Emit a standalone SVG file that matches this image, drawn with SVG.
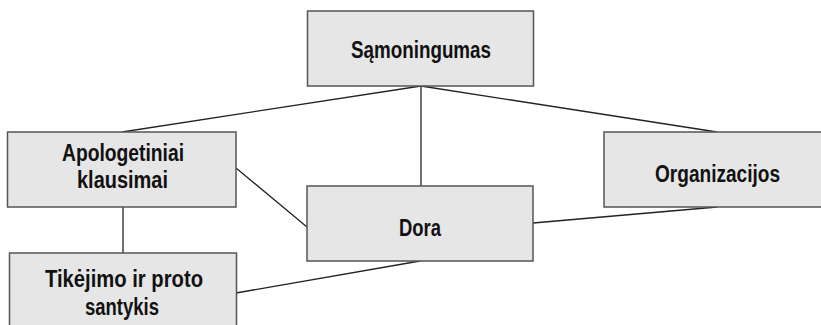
<svg xmlns="http://www.w3.org/2000/svg" width="821" height="325" viewBox="0 0 821 325">
<style>
.box{fill:#e6e6e7;stroke:#555;stroke-width:1.5}
.lbl{font-family:"Liberation Sans",Arial,sans-serif;font-weight:bold;font-size:23px;fill:#111;text-anchor:middle}
.con{stroke:#222;stroke-width:1.3;fill:none}
</style>
<rect width="821" height="325" fill="#fff"/>
<g id="connectors">
<line class="con" x1="421" y1="86" x2="122" y2="132"/>
<line class="con" x1="421" y1="86" x2="421" y2="186"/>
<line class="con" x1="421" y1="86" x2="717" y2="132"/>
<line class="con" x1="123" y1="207" x2="123" y2="253"/>
<line class="con" x1="236" y1="168" x2="307" y2="227"/>
<line class="con" x1="236" y1="293" x2="420" y2="261"/>
<line class="con" x1="533" y1="223" x2="717" y2="207"/>
</g>
<g id="samoningumas">
<rect class="box" x="307.5" y="11" width="226" height="75"/>
<text class="lbl" x="421" y="57.5" textLength="140" lengthAdjust="spacingAndGlyphs">Sąmoningumas</text>
</g>
<g id="apologetiniai">
<rect class="box" x="7.5" y="132" width="228.5" height="75"/>
<text class="lbl" x="123" y="160.7" textLength="122" lengthAdjust="spacingAndGlyphs">Apologetiniai</text>
<text class="lbl" x="122.5" y="188" textLength="91" lengthAdjust="spacingAndGlyphs">klausimai</text>
</g>
<g id="tikejimo">
<rect class="box" x="9.5" y="253" width="227" height="80"/>
<text class="lbl" x="124" y="287.3" textLength="158" lengthAdjust="spacingAndGlyphs">Tikėjimo ir proto</text>
<text class="lbl" x="122" y="314.7" textLength="74" lengthAdjust="spacingAndGlyphs">santykis</text>
</g>
<g id="dora">
<rect class="box" x="307" y="186" width="226" height="75"/>
<text class="lbl" x="420" y="235.7" textLength="42" lengthAdjust="spacingAndGlyphs">Dora</text>
</g>
<g id="organizacijos">
<rect class="box" x="604" y="132" width="230" height="75"/>
<text class="lbl" x="717.5" y="181.7" textLength="125" lengthAdjust="spacingAndGlyphs">Organizacijos</text>
</g>
</svg>
